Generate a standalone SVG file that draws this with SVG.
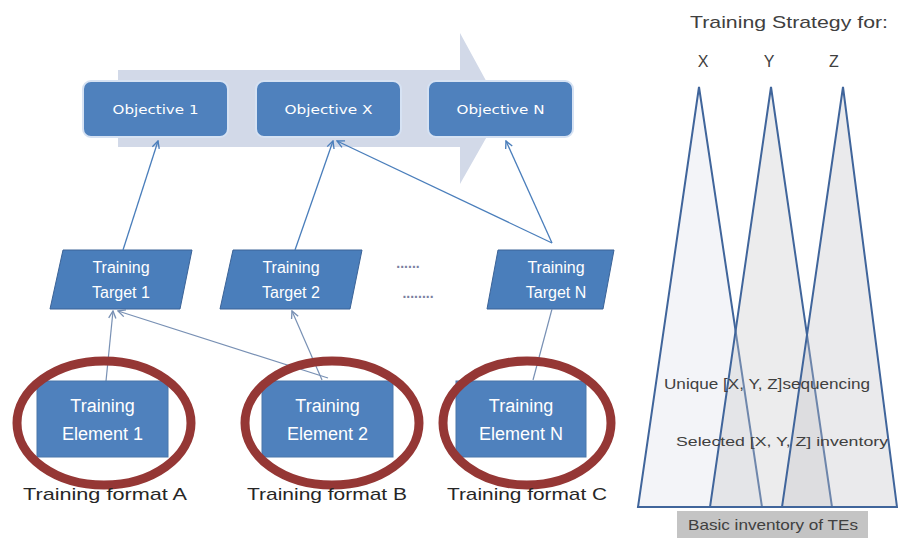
<svg xmlns="http://www.w3.org/2000/svg" width="898" height="538" viewBox="0 0 898 538">
<defs>
<style>
.obj{fill:#4f81bd;stroke:#d6e2f3;stroke-width:2}
.objt{font-family:"DejaVu Sans",sans-serif;font-size:11.5px;fill:#ffffff;text-anchor:middle}
.tgt{fill:#4a7ebb;stroke:#3b6397;stroke-width:1}
.tt{font-family:"Liberation Sans",Arial,sans-serif;font-size:16px;fill:#ffffff;text-anchor:middle}
.el{fill:#4f81bd;stroke:#4a76aa;stroke-width:1}
.et{font-family:"Liberation Sans",Arial,sans-serif;font-size:18px;fill:#ffffff;text-anchor:middle}
.ring{fill:none;stroke:#953735;stroke-width:9}
.lab{font-family:"Liberation Sans",Arial,sans-serif;font-size:17px;fill:#262626;text-anchor:middle}
.con{fill:none;stroke:#4a7ebb;stroke-width:1.3}
.con2{fill:none;stroke:#7890b4;stroke-width:1.2}
.tri{stroke:#40659b;stroke-width:2;stroke-linejoin:miter}
.rt{font-family:"Liberation Sans",Arial,sans-serif;fill:#404040;text-anchor:middle}
.dots{font-family:"Liberation Sans",Arial,sans-serif;font-size:14px;font-weight:bold;fill:#7a80a0;text-anchor:middle}
</style>
<marker id="ah" viewBox="0 0 10 10" refX="9" refY="5" markerWidth="9" markerHeight="9" orient="auto" markerUnits="userSpaceOnUse">
<path d="M1,1 L9,5 L1,9" fill="none" stroke="#4a7ebb" stroke-width="1.5"/>
</marker>
<marker id="ah2" viewBox="0 0 10 10" refX="9" refY="5" markerWidth="9" markerHeight="9" orient="auto" markerUnits="userSpaceOnUse">
<path d="M1,1 L9,5 L1,9" fill="none" stroke="#7890b4" stroke-width="1.5"/>
</marker>
</defs>
<rect width="898" height="538" fill="#ffffff"/>

<g id="process-arrow">
<path d="M118,70 L460,70 L460,33 L502,110 L460,184 L460,147 L118,147 Z" fill="#d2d9e8"/>
</g>

<g id="objective-1"><rect class="obj" x="83" y="81" width="145" height="56" rx="8"/><text class="objt" x="155.5" y="114" textLength="86" lengthAdjust="spacingAndGlyphs">Objective 1</text></g>
<g id="objective-x"><rect class="obj" x="256" y="81" width="145" height="56" rx="8"/><text class="objt" x="328.5" y="114" textLength="88" lengthAdjust="spacingAndGlyphs">Objective X</text></g>
<g id="objective-n"><rect class="obj" x="428" y="81" width="145" height="56" rx="8"/><text class="objt" x="500.5" y="114" textLength="88" lengthAdjust="spacingAndGlyphs">Objective N</text></g>

<g id="target-1"><path class="tgt" d="M63,250 L192,250 L180,309 L50,309 Z"/><text class="tt" x="121" y="273">Training</text><text class="tt" x="121" y="298">Target 1</text></g>
<g id="target-2"><path class="tgt" d="M233,250 L362,250 L350,309 L220,309 Z"/><text class="tt" x="291" y="273">Training</text><text class="tt" x="291" y="298">Target 2</text></g>
<g id="ellipsis">
<text class="dots" x="408" y="268">......</text>
<text class="dots" x="418" y="298">........</text>
</g>
<g id="target-n"><path class="tgt" d="M498,250 L614,250 L603,309 L487,309 Z"/><text class="tt" x="556" y="273">Training</text><text class="tt" x="556" y="298">Target N</text></g>

<g id="connectors">
<line class="con" x1="123" y1="250" x2="158" y2="141" marker-end="url(#ah)"/>
<line class="con" x1="295" y1="250" x2="333" y2="141" marker-end="url(#ah)"/>
<line class="con" x1="552" y1="243" x2="337" y2="141" marker-end="url(#ah)"/>
<line class="con" x1="552" y1="243" x2="506" y2="141" marker-end="url(#ah)"/>
<line class="con2" x1="106" y1="381" x2="113" y2="311" marker-end="url(#ah2)"/>
<line class="con2" x1="328" y1="378" x2="118" y2="311" marker-end="url(#ah2)"/>
<line class="con2" x1="322" y1="380" x2="292" y2="311" marker-end="url(#ah2)"/>
<line class="con2" x1="533" y1="380" x2="552" y2="309"/>
</g>

<g id="element-1"><rect class="el" x="37" y="381" width="131" height="76"/><text class="et" x="102.5" y="412">Training</text><text class="et" x="102.5" y="440">Element 1</text><ellipse class="ring" cx="104" cy="423" rx="87" ry="62"/></g>
<g id="element-2"><rect class="el" x="262" y="381" width="131" height="76"/><text class="et" x="327.5" y="412">Training</text><text class="et" x="327.5" y="440">Element 2</text><ellipse class="ring" cx="332" cy="423" rx="87" ry="62"/></g>
<g id="element-n"><rect class="el" x="456" y="381" width="130" height="76"/><text class="et" x="521" y="412">Training</text><text class="et" x="521" y="440">Element N</text><ellipse class="ring" cx="527" cy="423" rx="84" ry="62"/></g>

<g id="format-labels">
<text class="lab" x="105" y="500" textLength="164" lengthAdjust="spacingAndGlyphs">Training format A</text>
<text class="lab" x="327" y="500" textLength="160" lengthAdjust="spacingAndGlyphs">Training format B</text>
<text class="lab" x="527" y="500" textLength="160" lengthAdjust="spacingAndGlyphs">Training format C</text>
</g>

<g id="strategy">
<text class="rt" x="789" y="28" font-size="17" textLength="198" lengthAdjust="spacingAndGlyphs">Training Strategy for:</text>
<text class="rt" x="703" y="67" font-size="16">X</text>
<text class="rt" x="769" y="67" font-size="16">Y</text>
<text class="rt" x="834" y="67" font-size="16">Z</text>
<path class="tri" d="M699,87 L762,507 L638,507 Z" fill="#f3f4f8"/>
<path class="tri" d="M771,87 L832,507 L710,507 Z" fill="#c8c8cc" fill-opacity="0.35"/>
<path class="tri" d="M843,87 L897,507 L782,507 Z" fill="#c4c4c8" fill-opacity="0.35"/>
<line x1="637" y1="507" x2="897" y2="507" stroke="#40659b" stroke-width="2"/>
<text class="rt" x="767" y="389" font-size="15" textLength="206" lengthAdjust="spacingAndGlyphs">Unique [X, Y, Z]sequencing</text>
<text class="rt" x="782" y="446" font-size="12" textLength="212" lengthAdjust="spacingAndGlyphs">Selected  [X, Y, Z] inventory</text>
<rect x="677" y="511" width="191" height="27" fill="#c4c4c4"/>
<text class="rt" x="773" y="530" font-size="15" textLength="170" lengthAdjust="spacingAndGlyphs">Basic inventory of TEs</text>
</g>
</svg>
